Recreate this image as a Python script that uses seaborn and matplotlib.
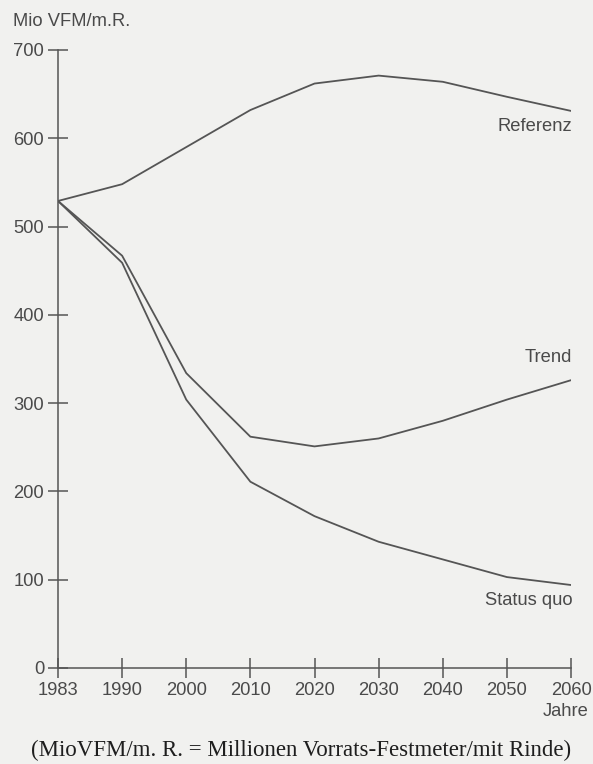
import matplotlib
matplotlib.use("Agg")
import matplotlib.pyplot as plt
import seaborn as sns
import pandas as pd
import numpy as np

years = ["1983", "1990", "2000", "2010", "2020", "2030", "2040", "2050", "2060"]
referenz = [529, 548, 590, 632, 662, 671, 664, 647, 631]
trend = [529, 467, 334, 262, 251, 260, 280, 304, 326]
status_quo = [529, 459, 304, 211, 172, 143, 123, 103, 94]
series_names = ["Referenz", "Trend", "Status quo"]

sns.set_theme(style="white")
plt.rcParams['font.family'] = ['Liberation Sans', 'DejaVu Sans']

pos = np.arange(len(years))
df = pd.DataFrame({
    "pos": np.tile(pos, 3),
    "wert": referenz + trend + status_quo,
    "serie": np.repeat(series_names, len(years)),
})

bg = "#f1f1ef"
ink = "#4a4a4a"
linec = "#555555"
fs = 13.2
fig = plt.figure(figsize=(5.93, 7.64), dpi=100, facecolor=bg)
ax = fig.add_axes([58/593, (764-668)/764, (571-58)/593, (668-50)/764])
ax.set_facecolor(bg)

sns.lineplot(data=df, x="pos", y="wert", hue="serie", hue_order=series_names,
             palette=[linec]*3, linewidth=1.3, legend=False, ax=ax)

ax.set_xlim(0, len(years)-1)
ax.set_ylim(0, 700)
ax.set_xticks(pos)
ax.set_xticklabels(years)
ax.set_yticks(np.arange(0, 701, 100))
ax.set_xlabel("")
ax.set_ylabel("")
for s in ["top", "right"]:
    ax.spines[s].set_visible(False)
for s in ["left", "bottom"]:
    ax.spines[s].set_color(linec)
    ax.spines[s].set_linewidth(1.1)
ax.tick_params(axis="both", bottom=True, left=True, direction="inout",
               length=14, width=1.1, color=linec, labelsize=fs,
               labelcolor=ink)
ax.tick_params(axis="x", pad=3)
ax.tick_params(axis="y", pad=3)

# series labels
ax.text(len(years)-1 + 0.02, referenz[-1]-8, "Referenz", ha="right", va="top",
        fontsize=fs, color=ink)
ax.text(len(years)-1 + 0.02, trend[-1]+16, "Trend", ha="right", va="bottom",
        fontsize=fs, color=ink)
ax.text(len(years)-1 + 0.02, status_quo[-1]-8, "Status quo", ha="right", va="top",
        fontsize=fs, color=ink)

fig.text(13/593, 1-22/764, "Mio VFM/m.R.", ha="left", va="center",
         fontsize=fs, color=ink)
fig.text(589/593, 1-711/764, "Jahre", ha="right", va="center",
         fontsize=fs, color=ink)
fig.text(301/593, 1-750/764,
         "(MioVFM/m. R. = Millionen Vorrats-Festmeter/mit Rinde)",
         ha="center", va="center", fontsize=16.5, color="#1e1e1e",
         family=["Liberation Serif", "DejaVu Serif"])

fig.savefig("out.png", dpi=100, facecolor=bg)
